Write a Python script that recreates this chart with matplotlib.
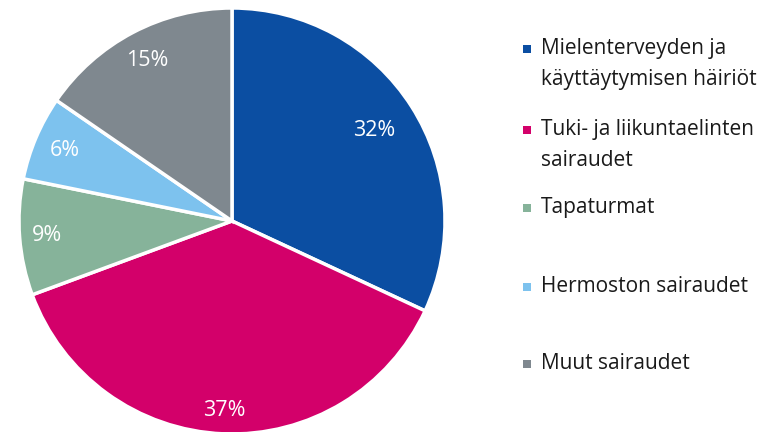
import numpy as np
import matplotlib.pyplot as plt
from matplotlib.patches import Rectangle

plt.rcParams['font.family'] = ['Open Sans', 'DejaVu Sans']

# Data
categories = ["Mielenterveyden ja\nkäyttäytymisen häiriöt",
              "Tuki- ja liikuntaelinten\nsairaudet",
              "Tapaturmat",
              "Hermoston sairaudet",
              "Muut sairaudet"]
shares = [31.9, 37.4, 8.8, 6.4, 15.4]
colors = ["#0B4EA2", "#D3006A", "#86B39A", "#7DC2EE", "#7F888F"]

# label radius (fraction of pie radius) per slice
label_r = [0.79, 0.89, 0.87, 0.85, 0.85]
legend_y = [49, 130, 208, 287, 364]  # pixel rows of legend markers

fig = plt.figure(figsize=(7.79, 4.32), dpi=100)
W, H = 779, 432
cx, cy, r = 232, 221, 213
ax = fig.add_axes([(cx - r) / W, (H - cy - r) / H, 2 * r / W, 2 * r / H])
wedges, texts = ax.pie(shares, colors=colors, startangle=90, counterclock=False,
                       radius=1, wedgeprops=dict(edgecolor="white", linewidth=2.5))
ax.set_xlim(-1, 1)
ax.set_ylim(-1, 1)

for w, s, lr in zip(wedges, shares, label_r):
    ang = np.deg2rad((w.theta1 + w.theta2) / 2)
    ax.text(lr * np.cos(ang), lr * np.sin(ang), f"{round(s)}%", ha="center",
            va="center", color="white", fontsize=15.5)

# Legend
for cat, col, y in zip(categories, colors, legend_y):
    fy = 1 - y / H
    fig.patches.append(Rectangle((523 / W, fy - 4 / H), 8 / W, 8 / H,
                                 transform=fig.transFigure, facecolor=col,
                                 edgecolor="none"))
    fig.text(541 / W, fy + 11 / H, cat, ha="left", va="top", fontsize=15,
             color="#1a1a1a", linespacing=1.6)

fig.savefig("out.png", dpi=100)
